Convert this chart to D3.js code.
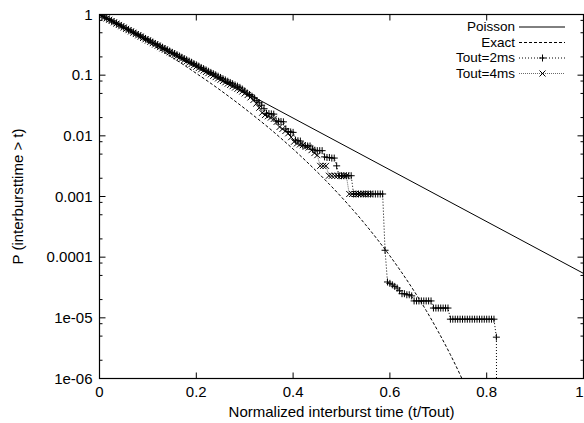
<!DOCTYPE html>
<html>
<head>
<meta charset="utf-8">
<script src="https://cdn.jsdelivr.net/npm/d3@7"></script>
<style>
  body { margin: 0; background: #fff; }
  svg { display: block; font-family: "Liberation Sans", Arial, sans-serif; }
</style>
</head>
<body>
<div id="chart-area"></div>
<script>
// axis ticks
var xTicks = [0, 0.2, 0.4, 0.6, 0.8, 1];
var xTickLabels = ['0', '0.2', '0.4', '0.6', '0.8', '1'];
var yTicks = [1, 0.1, 0.01, 0.001, 0.0001, 1e-5, 1e-6];
var yTickLabels = ['1', '0.1', '0.01', '0.001', '0.0001', '1e-05', '1e-06'];
var yMinorSteps = [2, 5, 8];

var seriesNames = ['Poisson', 'Exact', 'Tout=2ms', 'Tout=4ms'];

// Poisson reference (straight on log axis)
var poisson = [[0, 1], [1, 5.4e-5]];

// Exact curve
var exact = [
  [0, 1], [0.025, 0.776], [0.05, 0.599], [0.075, 0.459], [0.1, 0.349], [0.125, 0.263],
  [0.15, 0.197], [0.175, 0.146], [0.2, 0.107], [0.225, 0.0782], [0.25, 0.0563],
  [0.275, 0.0401], [0.3, 0.0282], [0.325, 0.0196], [0.35, 0.0135], [0.375, 0.0091],
  [0.4, 0.00605], [0.425, 0.00395], [0.45, 0.00253], [0.475, 0.00159], [0.5, 0.000977],
  [0.525, 0.000585], [0.55, 0.000341], [0.575, 0.000192], [0.6, 0.000105],
  [0.625, 5.5e-5], [0.65, 2.76e-5], [0.675, 1.32e-5], [0.7, 5.9e-6], [0.725, 2.47e-6],
  [0.75, 9.5e-7], [0.775, 3.3e-7]
];

// Tout=2ms measured points
var tout2 = [
  [0, 1], [0.005, 0.953], [0.01, 0.909], [0.015, 0.866], [0.02, 0.826], [0.025, 0.788],
  [0.03, 0.751], [0.035, 0.716], [0.04, 0.682], [0.045, 0.65], [0.05, 0.62], [0.055, 0.591],
  [0.06, 0.564], [0.065, 0.537], [0.07, 0.512], [0.075, 0.488], [0.08, 0.466], [0.085, 0.444],
  [0.09, 0.423], [0.095, 0.403], [0.1, 0.385], [0.105, 0.367], [0.11, 0.35], [0.115, 0.333],
  [0.12, 0.318], [0.125, 0.303], [0.13, 0.289], [0.135, 0.275], [0.14, 0.262], [0.145, 0.25],
  [0.15, 0.238], [0.155, 0.227], [0.16, 0.217], [0.165, 0.207], [0.17, 0.197], [0.175, 0.188],
  [0.18, 0.179], [0.185, 0.171], [0.19, 0.163], [0.195, 0.155], [0.2, 0.148], [0.205, 0.141],
  [0.21, 0.134], [0.215, 0.128], [0.22, 0.122], [0.225, 0.116], [0.23, 0.111], [0.235, 0.106],
  [0.24, 0.101], [0.245, 0.0962], [0.25, 0.0917], [0.255, 0.0874], [0.26, 0.0834],
  [0.265, 0.0795], [0.27, 0.0758], [0.275, 0.0722], [0.28, 0.0689], [0.285, 0.066],
  [0.29, 0.063], [0.295, 0.059], [0.3, 0.055], [0.305, 0.051], [0.31, 0.048], [0.315, 0.045],
  [0.32, 0.042], [0.325, 0.038], [0.33, 0.035], [0.335, 0.032], [0.34, 0.028],
  [0.345, 0.0235], [0.35, 0.0233], [0.355, 0.023], [0.36, 0.0228], [0.365, 0.0175],
  [0.37, 0.0174], [0.375, 0.0172], [0.38, 0.017], [0.385, 0.013], [0.39, 0.0118],
  [0.395, 0.0116], [0.4, 0.0114], [0.405, 0.0085], [0.41, 0.0083], [0.415, 0.0082],
  [0.42, 0.007], [0.425, 0.0069], [0.43, 0.0068], [0.435, 0.0068], [0.44, 0.006],
  [0.445, 0.0058], [0.45, 0.0057], [0.455, 0.0057], [0.46, 0.0057], [0.465, 0.0045],
  [0.47, 0.0044], [0.475, 0.0044], [0.48, 0.0043], [0.485, 0.0043], [0.49, 0.0032],
  [0.495, 0.0022], [0.5, 0.0022], [0.505, 0.0022], [0.51, 0.0022], [0.515, 0.0022],
  [0.52, 0.0022], [0.525, 0.0011], [0.53, 0.0011], [0.535, 0.0011], [0.54, 0.0011],
  [0.545, 0.0011], [0.55, 0.0011], [0.555, 0.0011], [0.56, 0.0011], [0.565, 0.0011],
  [0.57, 0.0011], [0.575, 0.0011], [0.58, 0.0011], [0.585, 0.0011],
  [0.59, 0.00013], [0.595, 3.9e-5], [0.6, 3.7e-5], [0.605, 3.5e-5], [0.61, 3.3e-5],
  [0.615, 3.1e-5], [0.62, 2.8e-5], [0.625, 2.5e-5], [0.63, 2.5e-5], [0.635, 2.4e-5],
  [0.64, 2.4e-5], [0.645, 2.3e-5], [0.65, 1.9e-5], [0.655, 1.9e-5], [0.66, 1.9e-5],
  [0.665, 1.9e-5], [0.67, 1.9e-5], [0.675, 1.9e-5], [0.68, 1.9e-5], [0.685, 1.9e-5],
  [0.69, 1.45e-5], [0.695, 1.45e-5], [0.7, 1.45e-5], [0.705, 1.45e-5], [0.71, 1.45e-5],
  [0.715, 1.45e-5], [0.72, 1.45e-5], [0.725, 9.5e-6], [0.73, 9.5e-6], [0.735, 9.5e-6],
  [0.74, 9.5e-6], [0.745, 9.5e-6], [0.75, 9.5e-6], [0.755, 9.5e-6], [0.76, 9.5e-6],
  [0.765, 9.5e-6], [0.77, 9.5e-6], [0.775, 9.5e-6], [0.78, 9.5e-6], [0.785, 9.5e-6],
  [0.79, 9.5e-6], [0.795, 9.5e-6], [0.8, 9.5e-6], [0.805, 9.5e-6], [0.81, 9.5e-6],
  [0.815, 9.5e-6], [0.82, 4.8e-6], [0.821, 1e-8]
];

// Tout=4ms measured points
var tout4 = [
  [0, 1], [0.005, 0.952], [0.01, 0.906], [0.015, 0.862], [0.02, 0.82], [0.025, 0.781],
  [0.03, 0.743], [0.035, 0.707], [0.04, 0.673], [0.045, 0.64], [0.05, 0.61], [0.055, 0.58],
  [0.06, 0.552], [0.065, 0.525], [0.07, 0.5], [0.075, 0.476], [0.08, 0.453], [0.085, 0.431],
  [0.09, 0.41], [0.095, 0.39], [0.1, 0.372], [0.105, 0.354], [0.11, 0.337], [0.115, 0.32],
  [0.12, 0.305], [0.125, 0.29], [0.13, 0.276], [0.135, 0.263], [0.14, 0.25], [0.145, 0.238],
  [0.15, 0.226], [0.155, 0.216], [0.16, 0.205], [0.165, 0.195], [0.17, 0.186], [0.175, 0.177],
  [0.18, 0.168], [0.185, 0.16], [0.19, 0.152], [0.195, 0.145], [0.2, 0.138], [0.205, 0.131],
  [0.21, 0.125], [0.215, 0.119], [0.22, 0.113], [0.225, 0.108], [0.23, 0.103], [0.235, 0.0976],
  [0.24, 0.0929], [0.245, 0.0884], [0.25, 0.0841], [0.255, 0.0801], [0.26, 0.0762],
  [0.265, 0.0725], [0.27, 0.069], [0.275, 0.0657], [0.28, 0.0625], [0.285, 0.0596],
  [0.29, 0.0566], [0.295, 0.0537], [0.3, 0.05], [0.306, 0.047], [0.312, 0.043],
  [0.318, 0.039], [0.324, 0.034], [0.33, 0.029], [0.336, 0.024], [0.342, 0.022],
  [0.348, 0.021], [0.354, 0.02], [0.36, 0.019], [0.366, 0.017], [0.372, 0.014],
  [0.378, 0.013], [0.384, 0.012], [0.39, 0.011], [0.396, 0.0095], [0.402, 0.008],
  [0.408, 0.0075], [0.414, 0.0072], [0.42, 0.007], [0.426, 0.0066], [0.432, 0.0064],
  [0.438, 0.0058], [0.444, 0.0052], [0.45, 0.0048], [0.456, 0.0032], [0.462, 0.0032],
  [0.468, 0.0032], [0.474, 0.0022], [0.48, 0.0022], [0.486, 0.0022], [0.492, 0.0022],
  [0.498, 0.0022], [0.504, 0.0022], [0.51, 0.0022], [0.516, 0.0011], [0.522, 0.0011],
  [0.528, 0.0011], [0.534, 0.0011], [0.54, 0.0011], [0.546, 0.0011], [0.552, 0.0011],
  [0.558, 0.0011]
];

var margin = { top: 14, right: 1, bottom: 45, left: 99 },
    width = 484,
    height = 364;

var svg = d3.select('#chart-area')
    .append('svg')
        .attr('width', 584)
        .attr('height', 423);

var g = svg.append('g')
    .attr('transform', 'translate(' + (margin.left + 0.5) + ',' + (margin.top + 0.5) + ')');

var x = d3.scaleLinear().domain([0, 1]).range([0, width]);
var y = d3.scaleLog().domain([1e-6, 1]).range([height, 0]);

g.append('clipPath').attr('id', 'plot-clip')
  .append('rect').attr('x', 0).attr('y', 0).attr('width', width).attr('height', height);

// ticks, all four sides, pointing inwards
var tickG = g.append('g').attr('stroke', '#000').attr('stroke-width', 1);
xTicks.forEach(function (t) {
    tickG.append('line').attr('x1', x(t)).attr('x2', x(t)).attr('y1', height).attr('y2', height - 6);
    tickG.append('line').attr('x1', x(t)).attr('x2', x(t)).attr('y1', 0).attr('y2', 6);
});
yTicks.forEach(function (v) {
    tickG.append('line').attr('x1', 0).attr('x2', 6).attr('y1', y(v)).attr('y2', y(v));
    tickG.append('line').attr('x1', width).attr('x2', width - 6).attr('y1', y(v)).attr('y2', y(v));
    if (v < 1) {
        yMinorSteps.forEach(function (m) {
            var yy = y(v * m);
            tickG.append('line').attr('x1', 0).attr('x2', 3).attr('y1', yy).attr('y2', yy);
            tickG.append('line').attr('x1', width).attr('x2', width - 3).attr('y1', yy).attr('y2', yy);
        });
    }
});

// tick labels (last one kept inside the window)
g.selectAll('.xlab').data(xTicks).enter().append('text')
    .attr('x', d => x(d))
    .attr('y', height + 18)
    .attr('text-anchor', (d, i) => i === xTicks.length - 1 ? 'end' : 'middle')
    .attr('font-size', '15px')
    .text((d, i) => xTickLabels[i]);

g.selectAll('.ylab').data(yTicks).enter().append('text')
    .attr('x', -7)
    .attr('y', d => y(d))
    .attr('dy', '0.35em')
    .attr('text-anchor', 'end')
    .attr('font-size', '15px')
    .text((d, i) => yTickLabels[i]);

// axis titles
g.append('text')
    .attr('text-anchor', 'middle')
    .attr('x', width / 2)
    .attr('y', height + 38)
    .attr('font-size', '15px')
    .text('Normalized interburst time (t/Tout)');

g.append('text')
    .attr('text-anchor', 'middle')
    .attr('transform', 'translate(' + (-82) + ',' + (height / 2) + ') rotate(-90)')
    .attr('dy', '0.35em')
    .attr('font-size', '15px')
    .text('P (interbursttime > t)');

// data
var plot = g.append('g').attr('clip-path', 'url(#plot-clip)');

var line = d3.line().x(d => x(d[0])).y(d => y(d[1]));
var smooth = d3.line().x(d => x(d[0])).y(d => y(d[1])).curve(d3.curveMonotoneX);

plot.append('path').datum(poisson).attr('d', line)
    .attr('fill', 'none').attr('stroke', '#000').attr('stroke-width', 1);

plot.append('path').datum(exact).attr('d', smooth)
    .attr('fill', 'none').attr('stroke', '#000').attr('stroke-width', 1)
    .attr('stroke-dasharray', '3,2');

plot.append('path').datum(tout2).attr('d', line)
    .attr('fill', 'none').attr('stroke', '#000').attr('stroke-width', 1)
    .attr('stroke-dasharray', '1,2');

plot.append('path').datum(tout4).attr('d', line)
    .attr('fill', 'none').attr('stroke', '#444').attr('stroke-width', 0.8)
    .attr('stroke-dasharray', '1,1');

function plusPath(cx, cy, r) {
    return 'M' + (cx - r) + ',' + cy + 'H' + (cx + r) + 'M' + cx + ',' + (cy - r) + 'V' + (cy + r);
}
function crossPath(cx, cy, r) {
    return 'M' + (cx - r) + ',' + (cy - r) + 'L' + (cx + r) + ',' + (cy + r) +
           'M' + (cx - r) + ',' + (cy + r) + 'L' + (cx + r) + ',' + (cy - r);
}

plot.selectAll('.p2').data(tout2.filter(d => d[1] >= 1e-6)).enter().append('path')
    .attr('d', d => plusPath(x(d[0]), y(d[1]), 3.5))
    .attr('stroke', '#000').attr('stroke-width', 1).attr('fill', 'none');

plot.selectAll('.p4').data(tout4).enter().append('path')
    .attr('d', d => crossPath(x(d[0]), y(d[1]), 3))
    .attr('stroke', '#000').attr('stroke-width', 1).attr('fill', 'none');

// frame
g.append('rect').attr('x', 0).attr('y', 0).attr('width', width).attr('height', height)
    .attr('fill', 'none').attr('stroke', '#000').attr('stroke-width', 1.2);

// legend
var legend = svg.append('g');
var legY = [26.5, 42, 57.5, 73];
var legDash = [null, '3,2', '1,2', '1,1'];
seriesNames.forEach(function (name, i) {
    legend.append('text')
        .attr('x', 515).attr('y', legY[i]).attr('dy', '0.35em')
        .attr('text-anchor', 'end').attr('font-size', '13.5px')
        .text(name);
    legend.append('line')
        .attr('x1', 519).attr('x2', 565).attr('y1', legY[i] + 0.5).attr('y2', legY[i] + 0.5)
        .attr('stroke', i === 3 ? '#444' : '#000').attr('stroke-width', i === 3 ? 0.8 : 1)
        .attr('stroke-dasharray', legDash[i]);
});
legend.append('path').attr('d', plusPath(542.5, legY[2] + 0.5, 3.5))
    .attr('stroke', '#000').attr('fill', 'none');
legend.append('path').attr('d', crossPath(542.5, legY[3] + 0.5, 3))
    .attr('stroke', '#000').attr('fill', 'none');
</script>
</body>
</html>
